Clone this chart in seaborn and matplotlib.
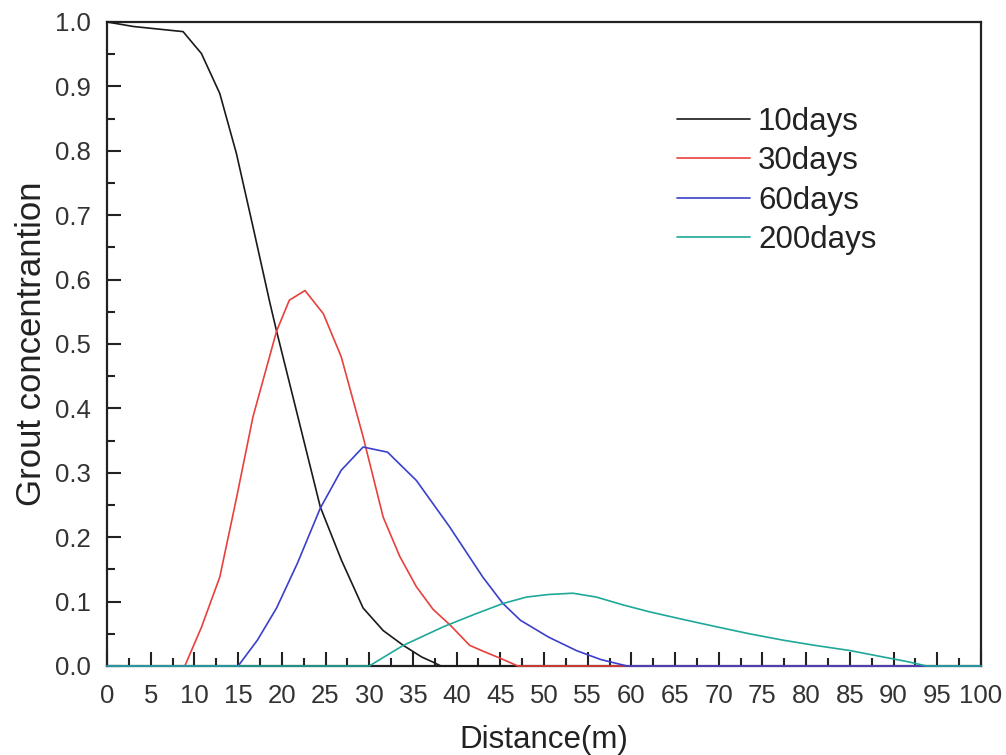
import numpy as np
import pandas as pd
import matplotlib
matplotlib.use("Agg")
import matplotlib.pyplot as plt
import seaborn as sns
from matplotlib.ticker import MultipleLocator

# ---- data ----
x_10 = [0, 3, 8.7, 10.8, 12.9, 14.8, 16.7, 18.65, 19.4, 21.6, 24.4, 26.8, 29.3, 31.6, 33.9, 36.0, 37.3, 38.2, 100]
y_10 = [1.0, 0.993, 0.985, 0.951, 0.889, 0.796, 0.682, 0.563, 0.52, 0.40, 0.247, 0.165, 0.09, 0.055, 0.032, 0.014, 0.006, 0.0, 0.0]

x_30 = [0, 8.9, 10.8, 12.9, 14.8, 16.7, 19.4, 20.86, 22.65, 24.75, 26.8, 29.3, 31.6, 33.5, 35.4, 37.3, 39.3, 41.5, 43.2, 45, 47, 100]
y_30 = [0, 0, 0.06, 0.138, 0.26, 0.387, 0.52, 0.568, 0.583, 0.547, 0.48, 0.356, 0.231, 0.17, 0.123, 0.088, 0.063, 0.032, 0.022, 0.012, 0.0, 0.0]

x_60 = [0, 15, 17.2, 19.4, 21.8, 24.4, 26.8, 29.3, 32.1, 35.4, 39.2, 43, 45.3, 47.3, 50.5, 53.7, 56.5, 59.5, 100]
y_60 = [0, 0, 0.04, 0.09, 0.16, 0.245, 0.304, 0.340, 0.332, 0.288, 0.216, 0.138, 0.097, 0.071, 0.045, 0.024, 0.01, 0, 0]

x_200 = [0, 30, 33.9, 38.5, 42, 45.3, 48, 50.5, 53.3, 56, 59, 62.1, 66, 69.7, 73.5, 77.4, 81, 85, 88.8, 91.5, 93.8, 100]
y_200 = [0, 0, 0.032, 0.061, 0.08, 0.097, 0.107, 0.111, 0.113, 0.107, 0.095, 0.084, 0.072, 0.061, 0.05, 0.04, 0.032, 0.024, 0.014, 0.007, 0, 0]

series_names = ["10days", "30days", "60days", "200days"]
series_colors = ["#1a1a1a", "#e8403c", "#3a3fcc", "#1fa89a"]

xticks = list(range(0, 101, 5))
yticks = [0.0, 0.1, 0.2, 0.3, 0.4, 0.5, 0.6, 0.7, 0.8, 0.9, 1.0]

frames = []
for name, xs, ys in zip(series_names, [x_10, x_30, x_60, x_200], [y_10, y_30, y_60, y_200]):
    frames.append(pd.DataFrame({"Distance": xs, "Conc": ys, "Series": name}))
df = pd.concat(frames, ignore_index=True)

sns.set_theme(style="white")
plt.rcParams["font.family"] = ["Liberation Sans", "DejaVu Sans"]

fig = plt.figure(figsize=(10.06, 7.55), dpi=100)
ax = fig.add_axes([0.1064, 0.1179, 0.8687, 0.8530])

sns.lineplot(data=df, x="Distance", y="Conc", hue="Series", hue_order=series_names,
             palette=dict(zip(series_names, series_colors)), sort=False,
             estimator=None, linewidth=1.2, ax=ax, zorder=3)

for ln in ax.get_lines():
    ln.set_clip_on(False)

ax.set_xlim(0, 100)
ax.set_ylim(0, 1.0)
ax.set_xticks(xticks)
ax.set_xticklabels([str(t) for t in xticks])
ax.set_yticks(yticks)
ax.set_yticklabels([f"{t:.1f}" for t in yticks])
ax.xaxis.set_minor_locator(MultipleLocator(2.5))
ax.yaxis.set_minor_locator(MultipleLocator(0.05))

ax.tick_params(axis="both", which="major", direction="in", length=10, width=1.5,
               labelsize=18.5, colors="#222222", labelcolor="#333333",
               bottom=True, left=True, top=False, right=False)
ax.tick_params(axis="x", which="major", pad=13)
ax.tick_params(axis="y", which="major", pad=11.5)
ax.tick_params(axis="both", which="minor", direction="in", length=6, width=1.5,
               colors="#222222", bottom=True, left=True, top=False, right=False)

for sp in ax.spines.values():
    sp.set_color("#222222")
    sp.set_linewidth(1.6)
    sp.set_visible(True)
    sp.set_zorder(2)

ax.set_xlabel("Distance(m)", fontsize=22.5, color="#222222", labelpad=12)
ax.set_ylabel("Grout concentrantion", fontsize=25, color="#222222", labelpad=5)

leg = ax.legend(loc="upper left", bbox_to_anchor=(0.652, 0.868), frameon=False,
                fontsize=22.5, handlelength=2.35, handletextpad=0.25, labelspacing=0.3,
                borderaxespad=0, borderpad=0)
for t in leg.get_texts():
    t.set_color("#222222")

fig.savefig("out.png", dpi=100)
